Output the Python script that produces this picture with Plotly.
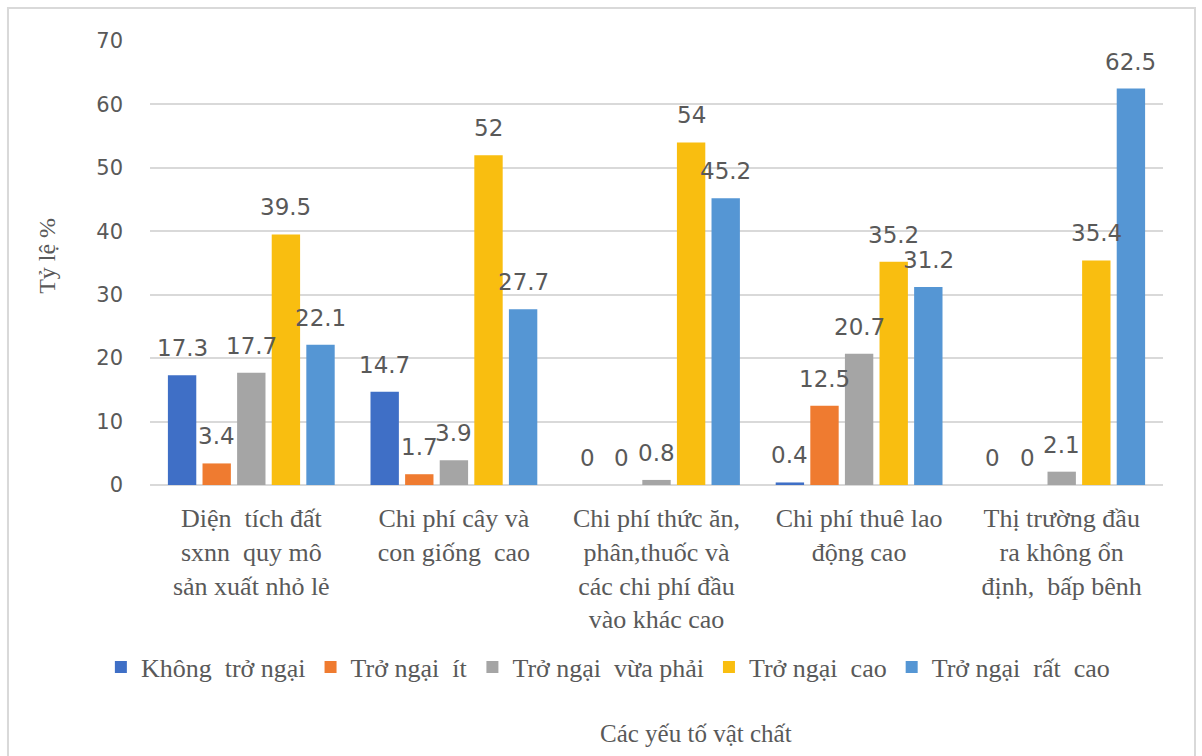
import plotly.graph_objects as go

# Categories (x axis) and series
categories = [
    "Diện  tích đất<br>sxnn  quy mô<br>sản xuất nhỏ lẻ",
    "Chi phí cây và<br>con giống  cao",
    "Chi phí thức ăn,<br>phân,thuốc và<br>các chi phí đầu<br>vào khác cao",
    "Chi phí thuê lao<br>động cao",
    "Thị trường đầu<br>ra không ổn<br>định,  bấp bênh",
]
series_names = [
    "Không  trở ngại",
    "Trở ngại  ít",
    "Trở ngại  vừa phải",
    "Trở ngại  cao",
    "Trở ngại  rất  cao",
]
khong_tro_ngai = [17.3, 14.7, 0, 0.4, 0]
tro_ngai_it = [3.4, 1.7, 0, 12.5, 0]
tro_ngai_vua_phai = [17.7, 3.9, 0.8, 20.7, 2.1]
tro_ngai_cao = [39.5, 52, 54, 35.2, 35.4]
tro_ngai_rat_cao = [22.1, 27.7, 45.2, 31.2, 62.5]
y_ticks = [0, 10, 20, 30, 40, 50, 60, 70]

series_values = [khong_tro_ngai, tro_ngai_it, tro_ngai_vua_phai, tro_ngai_cao, tro_ngai_rat_cao]
colors = ["#3F6FC6", "#EF7B30", "#A5A5A5", "#F9BE10", "#5596D4"]

TEXT = "#595959"
SERIF = "Liberation Serif, Times New Roman, serif"
SANS = "DejaVu Sans, Arial, sans-serif"
BARGAP = 0.146

fig = go.Figure()
for name, vals, col in zip(series_names, series_values, colors):
    fig.add_trace(go.Bar(
        x=categories, y=vals, name=name,
        marker=dict(color=col, line=dict(width=0)),
    ))

# Value labels floating above each bar
n = len(series_values)
slot = (1 - BARGAP) / n
annotations = []
for k, vals in enumerate(series_values):
    off = -(1 - BARGAP) / 2 + (k + 0.5) * slot
    for i, v in enumerate(vals):
        annotations.append(dict(
            x=i + off, y=v, xref="x", yref="y", text=f"{v:g}",
            showarrow=False, yanchor="bottom", yshift=12,
            font=dict(family=SANS, size=23, color=TEXT),
        ))

annotations.append(dict(
    x=0.539, y=-0.559, xref="paper", yref="paper", text="Các yếu tố vật chất",
    showarrow=False, xanchor="center", yanchor="middle",
    font=dict(family=SERIF, size=25, color=TEXT),
))
annotations.append(dict(
    x=-0.1017, y=0.516, xref="paper", yref="paper", text="Tỷ lệ %",
    showarrow=False, xanchor="center", yanchor="middle", textangle=-90,
    font=dict(family=SERIF, size=24, color=TEXT),
))

fig.update_layout(
    width=1202, height=756,
    margin=dict(l=150, r=39, t=41, b=271),
    paper_bgcolor="white", plot_bgcolor="white",
    barmode="group", bargap=BARGAP, bargroupgap=0.18,
    showlegend=True,
    legend=dict(
        orientation="h", x=0.452, xanchor="center", y=-0.41, yanchor="middle",
        font=dict(family=SERIF, size=26, color=TEXT),
        itemwidth=30, tracegroupgap=0,
    ),
    annotations=annotations,
    shapes=[dict(
        type="rect", xref="paper", yref="paper",
        x0=-0.1402, x1=1.0316, y0=-0.62, y1=1.0743,
        line=dict(color="#D9D9D9", width=2), fillcolor="rgba(0,0,0,0)",
        layer="below",
    )],
)
fig.update_xaxes(
    showgrid=False, showline=False, ticks="",
    tickfont=dict(family=SERIF, size=26, color=TEXT),
    ticklabelstandoff=15,
)
fig.update_yaxes(
    range=[0, 70], tickvals=y_ticks,
    showgrid=True, gridcolor="#D9D9D9", gridwidth=2,
    zeroline=True, zerolinecolor="#D9D9D9", zerolinewidth=2,
    showline=False, ticks="",
    tickfont=dict(family=SANS, size=21, color=TEXT),
    ticklabelstandoff=26,
)

fig.write_html("out.html")
